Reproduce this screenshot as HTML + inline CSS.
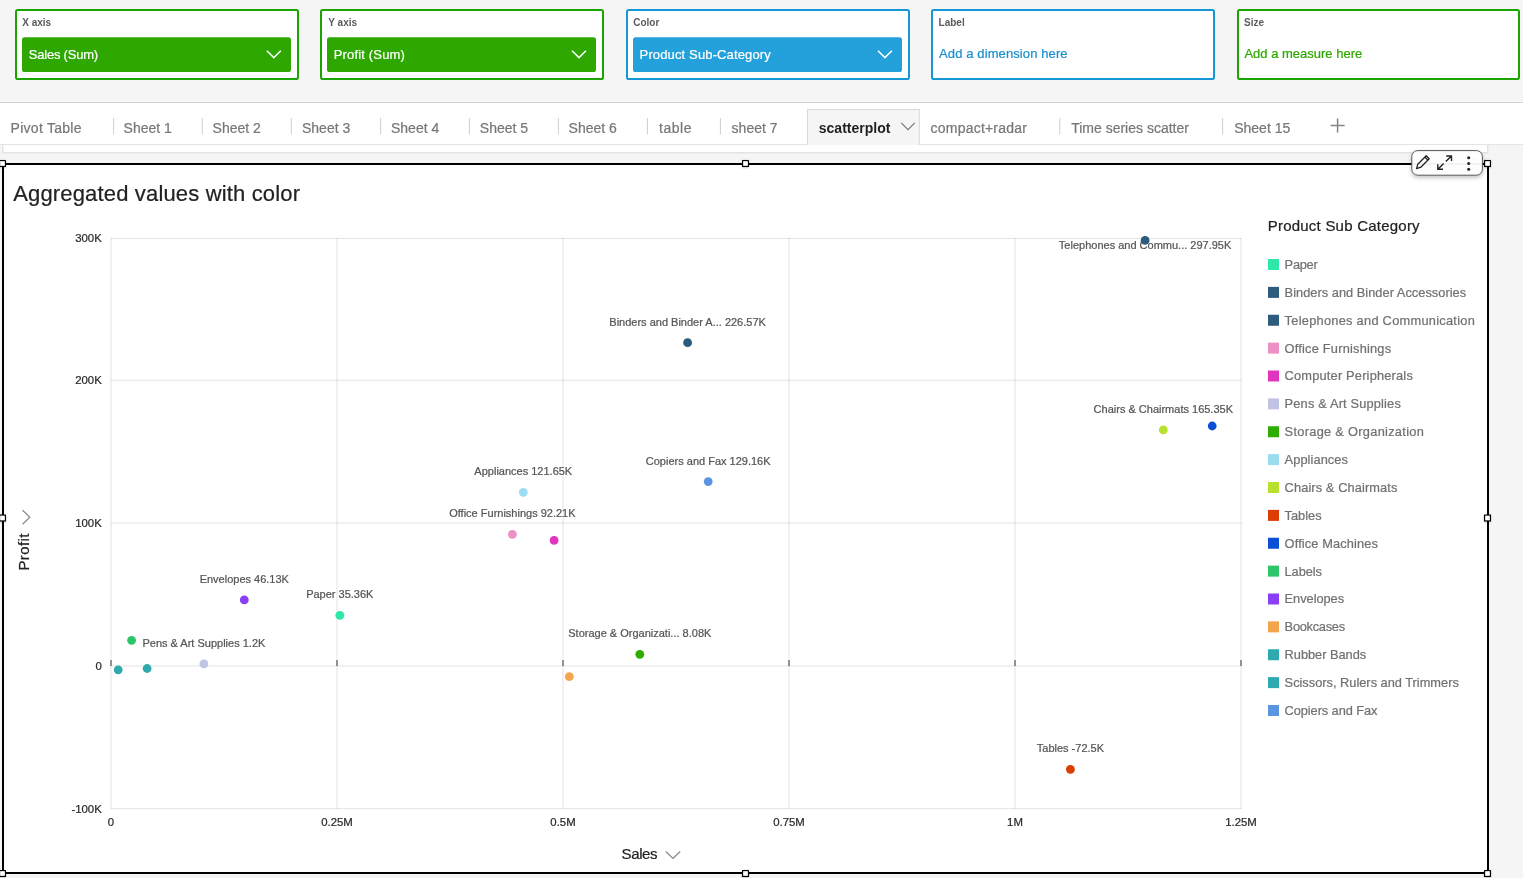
<!DOCTYPE html>
<html><head><meta charset="utf-8"><title>scatterplot</title>
<style>
html,body{margin:0;padding:0;background:#f5f5f5;width:1523px;height:878px;overflow:hidden}
svg{display:block;font-family:"Liberation Sans", sans-serif;will-change:transform}
</style></head><body>
<svg width="1523" height="878" viewBox="0 0 1523 878">
<rect x="16" y="10" width="282" height="69" rx="1.8" fill="#fff" stroke="#1ba400" stroke-width="2"/>
<text x="22.2" y="25.8" font-size="10" font-weight="700" fill="#5a5a5a">X axis</text>
<rect x="22" y="37.2" width="269" height="34.8" rx="2.6" fill="#2ea800"/>
<text stroke="#fff" stroke-width="0.22" x="28.8" y="59.3" font-size="13" fill="#fff" textLength="69.3" lengthAdjust="spacing">Sales (Sum)</text>
<path d="M266.8 50.8 L273.8 57.6 L280.8 50.8" fill="none" stroke="#fff" stroke-width="1.5"/>
<rect x="321" y="10" width="282" height="69" rx="1.8" fill="#fff" stroke="#1ba400" stroke-width="2"/>
<text x="328.3" y="25.8" font-size="10" font-weight="700" fill="#5a5a5a">Y axis</text>
<rect x="327" y="37.2" width="269" height="34.8" rx="2.6" fill="#2ea800"/>
<text stroke="#fff" stroke-width="0.22" x="333.8" y="59.3" font-size="13" fill="#fff" textLength="71.1" lengthAdjust="spacing">Profit (Sum)</text>
<path d="M572.0 50.8 L579.0 57.6 L586.0 50.8" fill="none" stroke="#fff" stroke-width="1.5"/>
<rect x="627" y="10" width="282" height="69" rx="1.8" fill="#fff" stroke="#1597d5" stroke-width="2"/>
<text x="633.2" y="25.8" font-size="10" font-weight="700" fill="#5a5a5a">Color</text>
<rect x="633" y="37.2" width="269" height="34.8" rx="2.6" fill="#24a0da"/>
<text stroke="#fff" stroke-width="0.22" x="639.6" y="59.3" font-size="13" fill="#fff" textLength="131.2" lengthAdjust="spacing">Product Sub-Category</text>
<path d="M877.9 50.8 L884.9 57.6 L891.9 50.8" fill="none" stroke="#fff" stroke-width="1.5"/>
<rect x="932" y="10" width="282" height="69" rx="1.8" fill="#fff" stroke="#1597d5" stroke-width="2"/>
<text x="938.6" y="25.8" font-size="10" font-weight="700" fill="#5a5a5a">Label</text>
<text stroke="#1a8fd0" stroke-width="0.22" x="939.1" y="57.9" font-size="13" fill="#1a8fd0" textLength="128.5" lengthAdjust="spacing">Add a dimension here</text>
<rect x="1238" y="10" width="281" height="69" rx="1.8" fill="#fff" stroke="#1ba400" stroke-width="2"/>
<text x="1244.0" y="25.8" font-size="10" font-weight="700" fill="#5a5a5a">Size</text>
<text stroke="#2ea800" stroke-width="0.22" x="1244.4" y="57.9" font-size="13" fill="#2ea800">Add a measure here</text>
<rect x="0" y="102" width="1523" height="1" fill="#d2d2d2"/>
<rect x="0" y="103" width="1523" height="41" fill="#fff"/>
<rect x="0" y="144" width="1523" height="1" fill="#e4e4e4"/>
<rect x="807" y="109" width="112.8" height="36" fill="#f5f5f5"/>
<rect x="807" y="109" width="112.8" height="1" fill="#d9d9d9"/>
<rect x="807" y="109" width="1" height="36" fill="#d9d9d9"/>
<rect x="918.8" y="109" width="1" height="36" fill="#d9d9d9"/>
<text stroke="#777" stroke-width="0.22" x="10.6" y="132.8" font-size="14" fill="#777" textLength="70.9" lengthAdjust="spacing">Pivot Table</text>
<text stroke="#777" stroke-width="0.22" x="123.6" y="132.8" font-size="14" fill="#777">Sheet 1</text>
<text stroke="#777" stroke-width="0.22" x="212.6" y="132.8" font-size="14" fill="#777">Sheet 2</text>
<text stroke="#777" stroke-width="0.22" x="302.0" y="132.8" font-size="14" fill="#777">Sheet 3</text>
<text stroke="#777" stroke-width="0.22" x="391.0" y="132.8" font-size="14" fill="#777">Sheet 4</text>
<text stroke="#777" stroke-width="0.22" x="479.8" y="132.8" font-size="14" fill="#777">Sheet 5</text>
<text stroke="#777" stroke-width="0.22" x="568.6" y="132.8" font-size="14" fill="#777">Sheet 6</text>
<text stroke="#777" stroke-width="0.22" x="659.1" y="132.8" font-size="14" fill="#777" textLength="32.4" lengthAdjust="spacing">table</text>
<text stroke="#777" stroke-width="0.22" x="731.6" y="132.8" font-size="14" fill="#777">sheet 7</text>
<text stroke="#777" stroke-width="0.22" x="930.6" y="132.8" font-size="14" fill="#777" textLength="96.3" lengthAdjust="spacing">compact+radar</text>
<text stroke="#777" stroke-width="0.22" x="1071.2" y="132.8" font-size="14" fill="#777">Time series scatter</text>
<text stroke="#777" stroke-width="0.22" x="1234.2" y="132.8" font-size="14" fill="#777">Sheet 15</text>
<text x="818.8" y="132.8" font-size="14" font-weight="700" fill="#1f1f1f">scatterplot</text>
<path d="M901.2 122.8 L908 129.6 L914.8 122.8" fill="none" stroke="#777" stroke-width="1.2"/>
<rect x="113.1" y="118" width="1" height="16.5" fill="#cfcfcf"/>
<rect x="201.8" y="118" width="1" height="16.5" fill="#cfcfcf"/>
<rect x="290.8" y="118" width="1" height="16.5" fill="#cfcfcf"/>
<rect x="380.1" y="118" width="1" height="16.5" fill="#cfcfcf"/>
<rect x="468.9" y="118" width="1" height="16.5" fill="#cfcfcf"/>
<rect x="557.9" y="118" width="1" height="16.5" fill="#cfcfcf"/>
<rect x="646.9" y="118" width="1" height="16.5" fill="#cfcfcf"/>
<rect x="719.9" y="118" width="1" height="16.5" fill="#cfcfcf"/>
<rect x="1059.3" y="118" width="1" height="16.5" fill="#cfcfcf"/>
<rect x="1222.1" y="118" width="1" height="16.5" fill="#cfcfcf"/>
<path d="M1337.6 118.6 V132.6 M1330.6 125.6 H1344.6" stroke="#838383" stroke-width="1.5"/>
<rect x="2" y="145" width="1486.5" height="8.5" fill="#e3e3e3"/>
<rect x="3.5" y="145" width="1483.5" height="7" fill="#fff"/>
<rect x="3" y="164" width="1485" height="709" fill="#fff" stroke="#000" stroke-width="2"/>
<text stroke="#222" stroke-width="0.22" x="13.2" y="200.7" font-size="22" fill="#222" textLength="286.8" lengthAdjust="spacing">Aggregated values with color</text>
<rect x="111" y="238.0" width="1130.5" height="1" fill="#000" fill-opacity="0.11"/>
<rect x="111" y="379.8" width="1130.5" height="1" fill="#000" fill-opacity="0.11"/>
<rect x="111" y="522.5" width="1130.5" height="1" fill="#000" fill-opacity="0.11"/>
<rect x="111" y="665.5" width="1130.5" height="1" fill="#000" fill-opacity="0.11"/>
<rect x="111" y="808.2" width="1130.5" height="1" fill="#000" fill-opacity="0.11"/>
<rect x="110.5" y="238" width="1" height="571" fill="#000" fill-opacity="0.11"/>
<rect x="336.5" y="238" width="1" height="571" fill="#000" fill-opacity="0.11"/>
<rect x="562.5" y="238" width="1" height="571" fill="#000" fill-opacity="0.11"/>
<rect x="788.5" y="238" width="1" height="571" fill="#000" fill-opacity="0.11"/>
<rect x="1014.5" y="238" width="1" height="571" fill="#000" fill-opacity="0.11"/>
<rect x="1240.5" y="238" width="1" height="571" fill="#000" fill-opacity="0.11"/>
<rect x="110.4" y="660" width="1.2" height="6" fill="#555"/>
<rect x="336.4" y="660" width="1.2" height="6" fill="#555"/>
<rect x="562.4" y="660" width="1.2" height="6" fill="#555"/>
<rect x="788.4" y="660" width="1.2" height="6" fill="#555"/>
<rect x="1014.4" y="660" width="1.2" height="6" fill="#555"/>
<rect x="1240.4" y="660" width="1.2" height="6" fill="#555"/>
<text stroke="#2a2a2a" stroke-width="0.22" x="101.8" y="242.3" font-size="11.4" fill="#2a2a2a" text-anchor="end">300K</text>
<text stroke="#2a2a2a" stroke-width="0.22" x="101.8" y="384.1" font-size="11.4" fill="#2a2a2a" text-anchor="end">200K</text>
<text stroke="#2a2a2a" stroke-width="0.22" x="101.8" y="526.8" font-size="11.4" fill="#2a2a2a" text-anchor="end">100K</text>
<text stroke="#2a2a2a" stroke-width="0.22" x="101.8" y="669.8" font-size="11.4" fill="#2a2a2a" text-anchor="end">0</text>
<text stroke="#2a2a2a" stroke-width="0.22" x="101.8" y="812.5" font-size="11.4" fill="#2a2a2a" text-anchor="end">-100K</text>
<text stroke="#2a2a2a" stroke-width="0.22" x="111.0" y="826.2" font-size="11.4" fill="#2a2a2a" text-anchor="middle">0</text>
<text stroke="#2a2a2a" stroke-width="0.22" x="337.0" y="826.2" font-size="11.4" fill="#2a2a2a" text-anchor="middle">0.25M</text>
<text stroke="#2a2a2a" stroke-width="0.22" x="563.0" y="826.2" font-size="11.4" fill="#2a2a2a" text-anchor="middle">0.5M</text>
<text stroke="#2a2a2a" stroke-width="0.22" x="789.0" y="826.2" font-size="11.4" fill="#2a2a2a" text-anchor="middle">0.75M</text>
<text stroke="#2a2a2a" stroke-width="0.22" x="1015.0" y="826.2" font-size="11.4" fill="#2a2a2a" text-anchor="middle">1M</text>
<text stroke="#2a2a2a" stroke-width="0.22" x="1241.0" y="826.2" font-size="11.4" fill="#2a2a2a" text-anchor="middle">1.25M</text>
<text stroke="#222" stroke-width="0.22" x="621.6" y="858.9" font-size="15" fill="#222" letter-spacing="-0.4">Sales</text>
<path d="M665.8 851.5 L673 858.5 L680.2 851.5" fill="none" stroke="#888" stroke-width="1.2"/>
<text stroke="#222" stroke-width="0.22" transform="translate(29.1 570.6) rotate(-90)" x="0" y="0" font-size="15" fill="#222" letter-spacing="0.4">Profit</text>
<path d="M22.6 510.2 L29.8 517.2 L22.6 524.2" fill="none" stroke="#888" stroke-width="1.2"/>
<text stroke="#222" stroke-width="0.22" x="1267.7" y="231" font-size="15" fill="#222" textLength="151.9" lengthAdjust="spacing">Product Sub Category</text>
<rect x="1268" y="259.00" width="11" height="11" fill="#2de8a8"/>
<text stroke="#717171" stroke-width="0.22" x="1284.6" y="268.90" font-size="12.8" fill="#717171" textLength="33.1" lengthAdjust="spacing">Paper</text>
<rect x="1268" y="286.88" width="11" height="11" fill="#2c5b7b"/>
<text stroke="#717171" stroke-width="0.22" x="1284.6" y="296.77" font-size="12.8" fill="#717171" textLength="181.5" lengthAdjust="spacing">Binders and Binder Accessories</text>
<rect x="1268" y="314.75" width="11" height="11" fill="#2c5b7b"/>
<text stroke="#717171" stroke-width="0.22" x="1284.6" y="324.65" font-size="12.8" fill="#717171" textLength="190.2" lengthAdjust="spacing">Telephones and Communication</text>
<rect x="1268" y="342.62" width="11" height="11" fill="#ec90c6"/>
<text stroke="#717171" stroke-width="0.22" x="1284.6" y="352.52" font-size="12.8" fill="#717171" textLength="106.5" lengthAdjust="spacing">Office Furnishings</text>
<rect x="1268" y="370.50" width="11" height="11" fill="#e334be"/>
<text stroke="#717171" stroke-width="0.22" x="1284.6" y="380.40" font-size="12.8" fill="#717171" textLength="128.2" lengthAdjust="spacing">Computer Peripherals</text>
<rect x="1268" y="398.38" width="11" height="11" fill="#c0c3e4"/>
<text stroke="#717171" stroke-width="0.22" x="1284.6" y="408.27" font-size="12.8" fill="#717171" textLength="116.2" lengthAdjust="spacing">Pens &amp; Art Supplies</text>
<rect x="1268" y="426.25" width="11" height="11" fill="#2ead00"/>
<text stroke="#717171" stroke-width="0.22" x="1284.6" y="436.15" font-size="12.8" fill="#717171" textLength="139.2" lengthAdjust="spacing">Storage &amp; Organization</text>
<rect x="1268" y="454.12" width="11" height="11" fill="#9adcf0"/>
<text stroke="#717171" stroke-width="0.22" x="1284.6" y="464.02" font-size="12.8" fill="#717171" textLength="63.3" lengthAdjust="spacing">Appliances</text>
<rect x="1268" y="482.00" width="11" height="11" fill="#b8e02e"/>
<text stroke="#717171" stroke-width="0.22" x="1284.6" y="491.90" font-size="12.8" fill="#717171" textLength="112.7" lengthAdjust="spacing">Chairs &amp; Chairmats</text>
<rect x="1268" y="509.88" width="11" height="11" fill="#dc3d00"/>
<text stroke="#717171" stroke-width="0.22" x="1284.6" y="519.77" font-size="12.8" fill="#717171" textLength="37.0" lengthAdjust="spacing">Tables</text>
<rect x="1268" y="537.75" width="11" height="11" fill="#0b4fd6"/>
<text stroke="#717171" stroke-width="0.22" x="1284.6" y="547.65" font-size="12.8" fill="#717171" textLength="93.3" lengthAdjust="spacing">Office Machines</text>
<rect x="1268" y="565.62" width="11" height="11" fill="#2ec46a"/>
<text stroke="#717171" stroke-width="0.22" x="1284.6" y="575.52" font-size="12.8" fill="#717171" textLength="37.2" lengthAdjust="spacing">Labels</text>
<rect x="1268" y="593.50" width="11" height="11" fill="#8a3ff7"/>
<text stroke="#717171" stroke-width="0.22" x="1284.6" y="603.40" font-size="12.8" fill="#717171" textLength="59.5" lengthAdjust="spacing">Envelopes</text>
<rect x="1268" y="621.38" width="11" height="11" fill="#f3a54e"/>
<text stroke="#717171" stroke-width="0.22" x="1284.6" y="631.27" font-size="12.8" fill="#717171" textLength="60.5" lengthAdjust="spacing">Bookcases</text>
<rect x="1268" y="649.25" width="11" height="11" fill="#2ea9ae"/>
<text stroke="#717171" stroke-width="0.22" x="1284.6" y="659.15" font-size="12.8" fill="#717171" textLength="81.6" lengthAdjust="spacing">Rubber Bands</text>
<rect x="1268" y="677.12" width="11" height="11" fill="#2ea9ae"/>
<text stroke="#717171" stroke-width="0.22" x="1284.6" y="687.02" font-size="12.8" fill="#717171" textLength="174.2" lengthAdjust="spacing">Scissors, Rulers and Trimmers</text>
<rect x="1268" y="705.00" width="11" height="11" fill="#5a94e3"/>
<text stroke="#717171" stroke-width="0.22" x="1284.6" y="714.90" font-size="12.8" fill="#717171" textLength="92.8" lengthAdjust="spacing">Copiers and Fax</text>
<text stroke="#555" stroke-width="0.22" x="1145.1" y="249.1" font-size="11" fill="#555" text-anchor="middle">Telephones and Commu... 297.95K</text>
<text stroke="#555" stroke-width="0.22" x="339.8" y="598.3" font-size="11" fill="#555" text-anchor="middle">Paper 35.36K</text>
<text stroke="#555" stroke-width="0.22" x="687.6" y="325.7" font-size="11" fill="#555" text-anchor="middle">Binders and Binder A... 226.57K</text>
<text stroke="#555" stroke-width="0.22" x="512.4" y="517.3" font-size="11" fill="#555" text-anchor="middle">Office Furnishings 92.21K</text>
<text stroke="#555" stroke-width="0.22" x="203.9" y="646.9" font-size="11" fill="#555" text-anchor="middle">Pens &amp; Art Supplies 1.2K</text>
<text stroke="#555" stroke-width="0.22" x="639.8" y="637.3" font-size="11" fill="#555" text-anchor="middle">Storage &amp; Organizati... 8.08K</text>
<text stroke="#555" stroke-width="0.22" x="523.3" y="475.3" font-size="11" fill="#555" text-anchor="middle">Appliances 121.65K</text>
<text stroke="#555" stroke-width="0.22" x="1163.3" y="412.9" font-size="11" fill="#555" text-anchor="middle">Chairs &amp; Chairmats 165.35K</text>
<text stroke="#555" stroke-width="0.22" x="1070.4" y="752.3" font-size="11" fill="#555" text-anchor="middle">Tables -72.5K</text>
<text stroke="#555" stroke-width="0.22" x="244.3" y="582.9" font-size="11" fill="#555" text-anchor="middle">Envelopes 46.13K</text>
<text stroke="#555" stroke-width="0.22" x="708.2" y="464.6" font-size="11" fill="#555" text-anchor="middle">Copiers and Fax 129.16K</text>
<circle cx="339.8" cy="615.3" r="4.4" fill="#2de8a8"/>
<circle cx="687.6" cy="342.7" r="4.4" fill="#2c5b7b"/>
<circle cx="512.4" cy="534.3" r="4.4" fill="#ec90c6"/>
<circle cx="554.1" cy="540.4" r="4.4" fill="#e334be"/>
<circle cx="203.9" cy="663.9" r="4.4" fill="#c0c3e4"/>
<circle cx="639.8" cy="654.3" r="4.4" fill="#2ead00"/>
<circle cx="523.3" cy="492.3" r="4.4" fill="#9adcf0"/>
<circle cx="1163.3" cy="429.9" r="4.4" fill="#b8e02e"/>
<circle cx="1070.4" cy="769.3" r="4.4" fill="#dc3d00"/>
<circle cx="1212.2" cy="426.0" r="4.4" fill="#0b4fd6"/>
<circle cx="131.6" cy="640.3" r="4.4" fill="#2ec46a"/>
<circle cx="244.3" cy="599.9" r="4.4" fill="#8a3ff7"/>
<circle cx="569.3" cy="676.7" r="4.4" fill="#f3a54e"/>
<circle cx="147.1" cy="668.5" r="4.4" fill="#2ea9ae"/>
<circle cx="118.2" cy="669.8" r="4.4" fill="#2ea9ae"/>
<circle cx="708.2" cy="481.6" r="4.4" fill="#5a94e3"/>
<circle cx="1145.1" cy="240.4" r="4.4" fill="#2c5b7b"/>
<defs><filter id="hs" x="-50%" y="-50%" width="200%" height="200%"><feDropShadow dx="0" dy="0.5" stdDeviation="1" flood-color="#000" flood-opacity="0.3"/></filter></defs>
<g filter="url(#hs)"><rect x="-1" y="160" width="7" height="7" rx="0.6" fill="#000"/><rect x="0.1499999999999999" y="161.15" width="4.7" height="4.7" fill="#fff"/></g>
<g filter="url(#hs)"><rect x="742" y="160" width="7" height="7" rx="0.6" fill="#000"/><rect x="743.15" y="161.15" width="4.7" height="4.7" fill="#fff"/></g>
<g filter="url(#hs)"><rect x="1484" y="160" width="7" height="7" rx="0.6" fill="#000"/><rect x="1485.15" y="161.15" width="4.7" height="4.7" fill="#fff"/></g>
<g filter="url(#hs)"><rect x="-1" y="514.5" width="7" height="7" rx="0.6" fill="#000"/><rect x="0.1499999999999999" y="515.65" width="4.7" height="4.7" fill="#fff"/></g>
<g filter="url(#hs)"><rect x="1484" y="514.5" width="7" height="7" rx="0.6" fill="#000"/><rect x="1485.15" y="515.65" width="4.7" height="4.7" fill="#fff"/></g>
<g filter="url(#hs)"><rect x="-1" y="870" width="7" height="7" rx="0.6" fill="#000"/><rect x="0.1499999999999999" y="871.15" width="4.7" height="4.7" fill="#fff"/></g>
<g filter="url(#hs)"><rect x="742" y="870" width="7" height="7" rx="0.6" fill="#000"/><rect x="743.15" y="871.15" width="4.7" height="4.7" fill="#fff"/></g>
<g filter="url(#hs)"><rect x="1484" y="870" width="7" height="7" rx="0.6" fill="#000"/><rect x="1485.15" y="871.15" width="4.7" height="4.7" fill="#fff"/></g>
<defs><filter id="sh" x="-20%" y="-30%" width="140%" height="180%"><feDropShadow dx="0" dy="2" stdDeviation="2" flood-color="#000" flood-opacity="0.25"/></filter></defs>
<rect x="1411.8" y="150.6" width="70.6" height="24.6" rx="6" fill="#fff" fill-opacity="0.94" stroke="#555" stroke-width="1" filter="url(#sh)"/>
<g fill="none" stroke="#222" stroke-width="1.3" stroke-linejoin="round"><path d="M1416.6 168.6 L1417.8 164.2 L1426.2 155.8 L1429.2 158.8 L1420.8 167.2 Z"/><path d="M1425 157.3 L1428 160.3"/></g>
<g fill="none" stroke="#222" stroke-width="1.4"><path d="M1445.8 161.6 L1451.2 156.2 M1446.2 156 H1451.5 V161"/><path d="M1443.6 163.6 L1438.2 169 M1437.8 164.2 V169.3 H1443"/></g>
<circle cx="1468.7" cy="157.8" r="1.5" fill="#222"/>
<circle cx="1468.7" cy="163.6" r="1.5" fill="#222"/>
<circle cx="1468.7" cy="169.2" r="1.5" fill="#222"/>
</svg>
</body></html>
